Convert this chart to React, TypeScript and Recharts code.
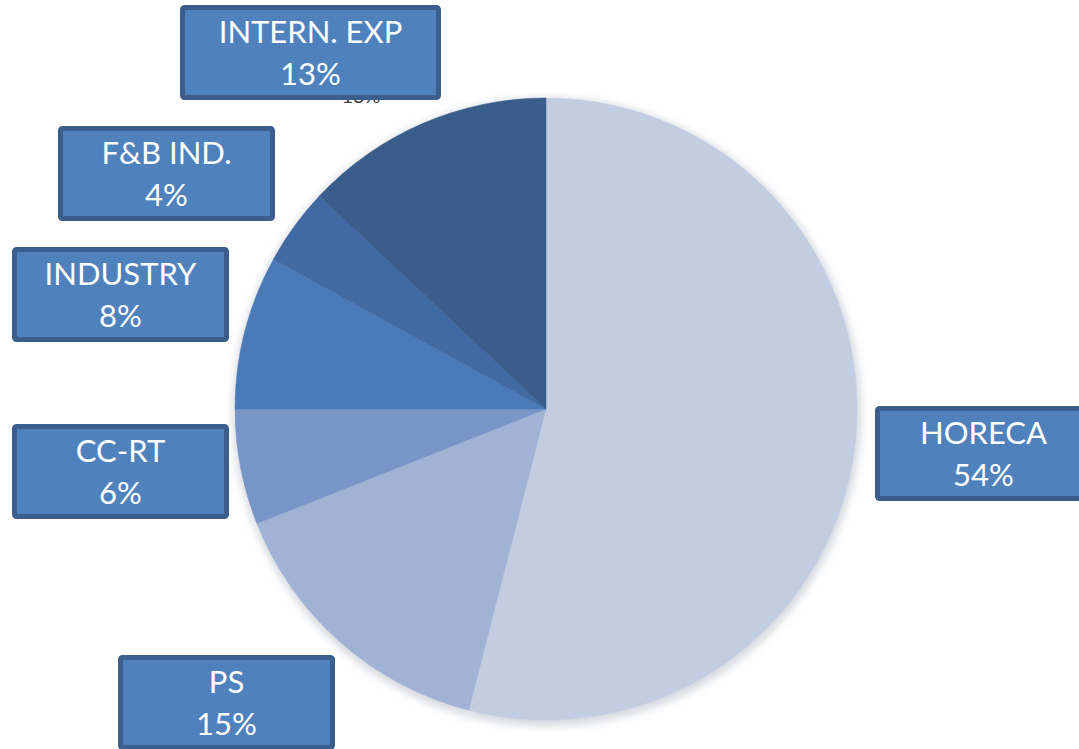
import { Cell, Pie, PieChart } from 'recharts';

const SEGMENTS = ['HORECA', 'PS', 'CC-RT', 'INDUSTRY', 'F&B IND.', 'INTERN. EXP'];
const SHARES = [54, 15, 6, 8, 4, 13];
const SLICE_COLORS = ['#c3cde2', '#a1b3d5', '#7795c6', '#4a7ab8', '#4169a2', '#3a5d8b'];

// callout boxes (top-left corner + width), in page px
const BOXES = [
  { x: 875, y: 406, w: 217 },
  { x: 118, y: 655, w: 217 },
  { x: 12, y: 424, w: 217 },
  { x: 12, y: 247, w: 217 },
  { x: 58, y: 126, w: 217 },
  { x: 180, y: 5, w: 261 },
];

const BOX_H = 95;
const BOX_FILL = '#4f81bd';
const BOX_EDGE = '#3b5e8d';
const FONT = 'Lato, "Open Sans", sans-serif';

const data = SEGMENTS.map((name, i) => ({ name, value: SHARES[i] }));

function Callout(props: any) {
  const i = props.index;
  const b = BOXES[i];
  if (!b) return null;
  const cx = b.x + b.w / 2;
  return (
    <g>
      {i === 5 && (
        <text x={361} y={103} textAnchor="middle" fontSize={20} fill="#404040" fontFamily={FONT}>
          {SHARES[i]}%
        </text>
      )}
      <rect
        x={b.x + 2.5}
        y={b.y + 2.5}
        width={b.w - 5}
        height={BOX_H - 5}
        rx={2}
        fill={BOX_FILL}
        stroke={BOX_EDGE}
        strokeWidth={5}
      />
      <text x={cx} y={b.y + 38} textAnchor="middle" fontSize={31} fill="#fff" fontFamily={FONT}>
        {SEGMENTS[i]}
      </text>
      <text x={cx} y={b.y + 80} textAnchor="middle" fontSize={31} fill="#fff" fontFamily={FONT}>
        {SHARES[i]}%
      </text>
    </g>
  );
}

export default function App() {
  return (
    <div style={{ position: 'absolute', left: 0, top: 0, width: 1079, height: 749, background: '#fff', overflow: 'hidden' }}>
      <PieChart width={1079} height={749} margin={{ top: 0, right: 0, bottom: 0, left: 0 }}>
        <defs>
          <filter id="softEdge" x="-10%" y="-10%" width="120%" height="120%">
            <feGaussianBlur stdDeviation="4" />
          </filter>
        </defs>
        {/* soft shadow under the pie */}
        <Pie
          data={data}
          dataKey="value"
          cx={547}
          cy={412}
          outerRadius={314}
          startAngle={90}
          endAngle={-270}
          stroke="none"
          fill="#d4d8de"
          style={{ filter: 'url(#softEdge)' }}
          isAnimationActive={false}
        />
        <Pie
          data={data}
          dataKey="value"
          cx={546}
          cy={409}
          outerRadius={311}
          startAngle={90}
          endAngle={-270}
          stroke="none"
          label={Callout}
          labelLine={false}
          isAnimationActive={false}
        >
          {data.map((d, i) => (
            <Cell key={d.name} fill={SLICE_COLORS[i]} stroke={SLICE_COLORS[i]} strokeWidth={0.5} />
          ))}
        </Pie>
      </PieChart>
    </div>
  );
}
